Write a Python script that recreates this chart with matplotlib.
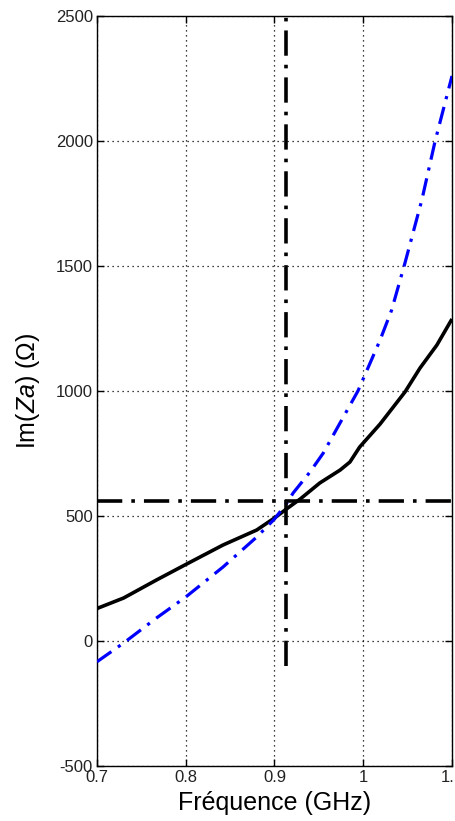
import matplotlib
matplotlib.use("Agg")
import matplotlib.pyplot as plt

# Data
freq_black = [0.70, 0.73, 0.767, 0.80, 0.842, 0.88, 0.90, 0.915, 0.929, 0.951,
              0.974, 0.985, 0.996, 1.019, 1.047, 1.064, 1.083, 1.10]
im_black = [130, 172, 244, 306, 384, 444, 492, 532, 568, 632,
            684, 716, 776, 868, 996, 1092, 1184, 1288]

freq_blue = [0.70, 0.73, 0.767, 0.80, 0.842, 0.88, 0.90, 0.914, 0.921, 0.94,
             0.955, 0.9625, 0.994, 1.019, 1.032, 1.047, 1.066, 1.081, 1.10]
im_blue = [-83, -8, 92, 176, 296, 416, 488, 552, 592, 676,
           752, 800, 1000, 1204, 1324, 1512, 1764, 2000, 2260]

ref_freq = 0.913
ref_imag = 560
vline_bottom = -100

x_ticks = [0.7, 0.8, 0.9, 1.0, 1.1]
x_ticklabels = ['0.7', '0.8', '0.9', '1', '1.1']
y_ticks = [-500, 0, 500, 1000, 1500, 2000, 2500]
y_ticklabels = ['-500', '0', '500', '1000', '1500', '2000', '2500']

plt.rcParams['font.family'] = ['Liberation Sans', 'DejaVu Sans']
plt.rcParams['mathtext.fontset'] = 'custom'
plt.rcParams['mathtext.it'] = 'Liberation Sans:italic'
plt.rcParams['mathtext.rm'] = 'Liberation Sans'

fig = plt.figure(figsize=(4.55, 8.21), dpi=100)
W, H = 455, 821
ax = fig.add_axes([97 / W, 1 - 766 / H, (452 - 97) / W, (766 - 16) / H])

ax.plot(freq_black, im_black, color='black', lw=2.6, solid_capstyle='butt',
        solid_joinstyle='round', zorder=3)
ax.plot(freq_blue, im_blue, color='#0000ff', lw=2.3, linestyle=(0, (5.5, 2.5, 1, 2.5)), zorder=3)

ax.plot([ref_freq, ref_freq], [vline_bottom, 2500], color='black', lw=2.6,
        linestyle=(0, (7, 2.5, 1, 2.5)), zorder=4, clip_on=False)
ax.plot([0.7, 1.1], [ref_imag, ref_imag], color='black', lw=2.6,
        linestyle=(0, (7, 2.5, 1, 2.5)), zorder=4)

ax.set_xlim(0.7, 1.1)
ax.set_ylim(-500, 2500)
ax.set_xticks(x_ticks)
ax.set_xticklabels(x_ticklabels)
ax.set_yticks(y_ticks)
ax.set_yticklabels(y_ticklabels)

ax.grid(True, color='black', linestyle=(0, (1, 3)), linewidth=0.9)
ax.tick_params(direction='in', length=5, width=1, top=True, right=True,
               labelsize=12, colors='black', pad=3)
for lbl in ax.get_xticklabels() + ax.get_yticklabels():
    lbl.set_color('#222222')
for s in ax.spines.values():
    s.set_linewidth(1.0)
    s.set_color('black')

ax.set_xlabel('Fréquence (GHz)', fontsize=18, labelpad=4)
ax.set_ylabel(r'Im($\mathit{Za}$) ($\Omega$)', fontsize=18, labelpad=10)

fig.savefig('out.png', dpi=100)
